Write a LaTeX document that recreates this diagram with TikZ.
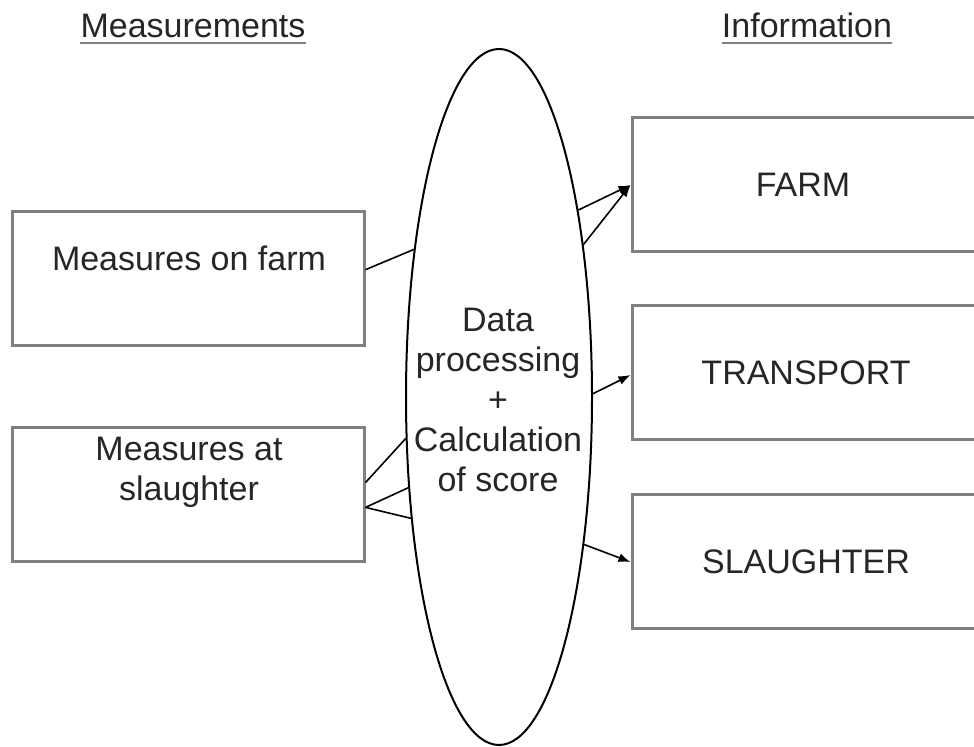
\documentclass[tikz,border=0pt]{standalone}
\usepackage{fontspec}
\setmainfont{Liberation Sans}
\usetikzlibrary{shapes.geometric,arrows.meta}
\begin{document}
\begin{tikzpicture}
	[x=0.5pt,y=-0.5pt,
	box/.style={draw=black!50,line width=1.5pt,minimum width=176pt,
		minimum height=67pt,inner sep=0pt},
	txt/.style={font=\fontsize{17}{20}\selectfont,text=black!85,
		align=center,inner sep=0pt},
	conn/.style={line width=0.8pt},
	arr/.style={conn,-{Latex[length=6pt,width=4.5pt]}}]
	\clip (0,0) rectangle (974,747);
	% headings
	\node[txt,anchor=base] (meas) at (193,38) {Measurements};
	\node[txt,anchor=base] (info) at (807,38) {Information};
	\draw[black!50,line width=1.2pt] ([yshift=-2.2pt]meas.south west) -- ([yshift=-2.2pt]meas.south east);
	\draw[black!50,line width=1.2pt] ([yshift=-2.2pt]info.south west) -- ([yshift=-2.2pt]info.south east);
	% left boxes
	\node[box] (mfarm) at (188,279) {};
	\node[txt] (mfarmtxt) at (189,258) {Measures on farm};
	\node[box] (mslau) at (188,495) {};
	\node[txt] (mslautxt) at (189,472) {Measures at\\slaughter};
	% centre
	\node[ellipse,draw,line width=1pt,minimum width=93pt,minimum height=348pt,
		inner sep=0pt] (proc) at (499,397) {};
	\node[txt] (proctxt) at (498,400) {Data\\processing\\+\\Calculation\\of score};
	% right boxes
	\node[box,minimum width=179pt] (farm) at (811,185) {};
	\node[txt] (farmtxt) at (803,185) {FARM};
	\node[box,minimum width=179pt] (trans) at (811,373) {};
	\node[txt] (transtxt) at (806,373) {TRANSPORT};
	\node[box,minimum width=179pt] (slau) at (811,562) {};
	\node[txt] (slautxt) at (806,562) {SLAUGHTER};
	% connectors
	\draw[conn] (mfarm.3.6) -- (proc.120);
	\draw[conn] (mslau.4.5) -- (proc.204);
	\draw[conn] (mslau.-4.2) -- (proc.225.6);
	\draw[conn] (mslau.-4.2) -- (proc.234);
	\draw[arr] (proc.67.7) -- (farm.west);
	\draw[arr] (proc.61) -- (farm.west);
	\draw[arr] (proc.2) -- ([yshift=-1pt]trans.west);
	\draw[arr] (proc.-60.6) -- (slau.west);
\end{tikzpicture}
\end{document}
